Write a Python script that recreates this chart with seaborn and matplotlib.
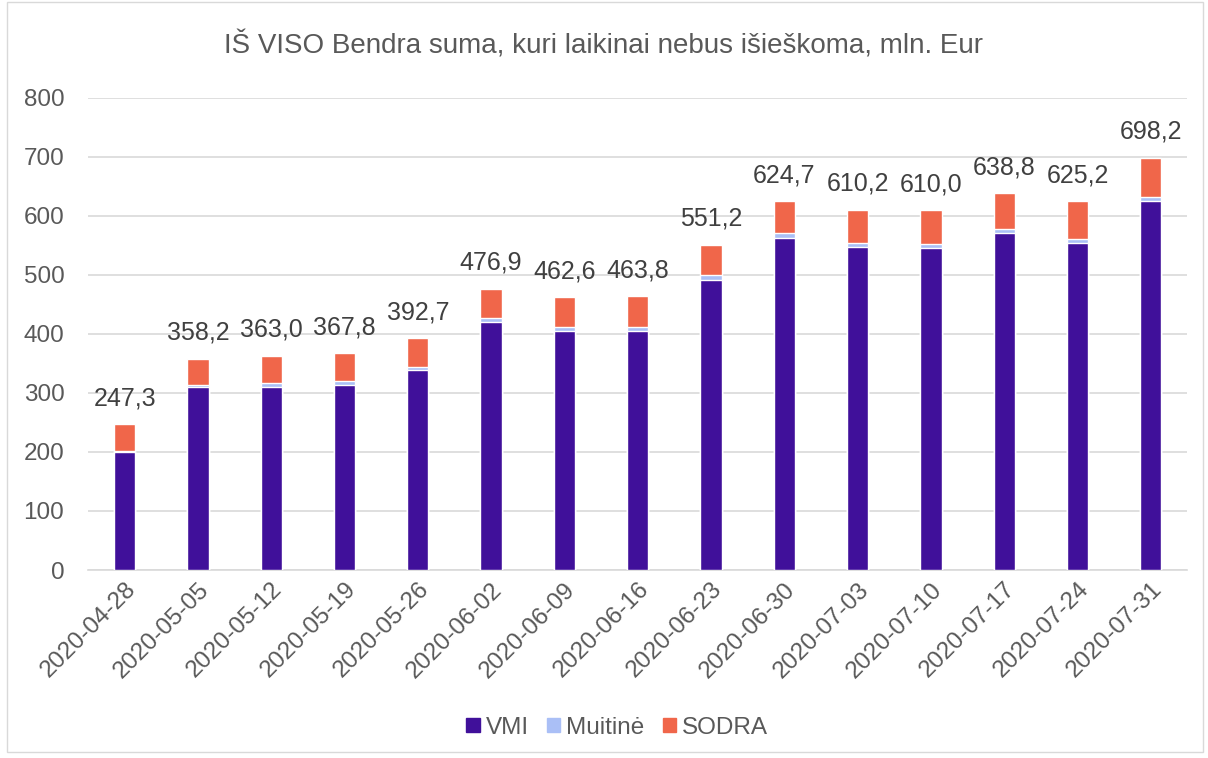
import numpy as np
import pandas as pd
import matplotlib
matplotlib.use("Agg")
import matplotlib.pyplot as plt
import seaborn as sns
from matplotlib.patches import Patch, Rectangle

# Data (mln. Eur)
dates = ["2020-04-28", "2020-05-05", "2020-05-12", "2020-05-19", "2020-05-26",
         "2020-06-02", "2020-06-09", "2020-06-16", "2020-06-23", "2020-06-30",
         "2020-07-03", "2020-07-10", "2020-07-17", "2020-07-24", "2020-07-31"]
vmi = [200.0, 310.0, 310.0, 314.0, 338.0, 420.0, 405.5, 405.5, 492.0, 563.0,
       547.0, 545.5, 571.5, 553.5, 625.0]
muitine = [2.0, 3.0, 6.0, 6.0, 6.5, 7.0, 7.0, 7.0, 7.0, 7.5, 7.0, 7.0, 7.0, 7.5, 7.0]
totals = [247.3, 358.2, 363.0, 367.8, 392.7, 476.9, 462.6, 463.8, 551.2, 624.7,
          610.2, 610.0, 638.8, 625.2, 698.2]
total_labels = ["247,3", "358,2", "363,0", "367,8", "392,7", "476,9", "462,6", "463,8",
                "551,2", "624,7", "610,2", "610,0", "638,8", "625,2", "698,2"]

c_vmi = "#40109a"
c_muit = "#aabff6"
c_sodra = "#f0664a"

df = pd.DataFrame({"date": dates, "vmi": vmi, "muitine": muitine, "total": totals})
df["vmi_muit"] = df["vmi"] + df["muitine"]

sns.set_style("white")
plt.rcParams["font.family"] = ["Liberation Sans", "DejaVu Sans"]

fig = plt.figure(figsize=(12.08, 7.58), dpi=100)
ax = fig.add_axes([0.0728, 0.248, 0.9102, 0.623])

# stacked bars drawn back-to-front from cumulative sums
sns.barplot(data=df, x="date", y="total", color=c_sodra, saturation=1, width=0.29, ax=ax, zorder=3)
sns.barplot(data=df, x="date", y="vmi_muit", color=c_muit, saturation=1, width=0.29, ax=ax, zorder=3)
sns.barplot(data=df, x="date", y="vmi", color=c_vmi, saturation=1, width=0.29, ax=ax, zorder=3)

for i, (t, lab) in enumerate(zip(totals, total_labels)):
    ax.annotate(lab, (i, t), xytext=(0, 10), textcoords="offset points",
                ha="center", va="bottom", fontsize=18, color="#404040")

ax.set_ylim(0, 800)
ax.set_xlim(-0.5, len(dates) - 0.5)
ax.set_yticks(range(0, 801, 100))
ax.grid(axis="y", color="#d9d9d9", linewidth=1.2, zorder=0)
ax.set_axisbelow(True)
for s in ["top", "right", "left"]:
    ax.spines[s].set_visible(False)
ax.spines["bottom"].set_color("#d9d9d9")
ax.spines["bottom"].set_linewidth(1.2)

ax.set_xlabel("")
ax.set_ylabel("")
ax.tick_params(axis="y", length=0, pad=17, labelsize=17.5, labelcolor="#595959")
ax.tick_params(axis="x", which="major", length=0, pad=6, labelsize=17.5, labelcolor="#595959")
ax.set_xticks(np.arange(-0.5, len(dates), 1), minor=True)
ax.tick_params(axis="x", which="minor", length=7, color="#d9d9d9", width=1.2)
plt.setp(ax.get_xticklabels(), rotation=45, ha="right", rotation_mode="anchor")

fig.text(0.5, 0.94, "IŠ VISO Bendra suma, kuri laikinai nebus išieškoma, mln. Eur",
         ha="center", va="center", fontsize=20, color="#595959")

handles = [Patch(color=c_vmi), Patch(color=c_muit), Patch(color=c_sodra)]
fig.legend(handles, ["VMI", "Muitinė", "SODRA"], loc="center", bbox_to_anchor=(0.511, 0.04),
           ncol=3, frameon=False, fontsize=17.5, handlelength=0.55, handleheight=0.55,
           handletextpad=0.25, columnspacing=0.75, labelcolor="#595959")

fig.patches.append(Rectangle((0.006, 0.008), 0.99, 0.99, transform=fig.transFigure,
                             fill=False, edgecolor="#d9d9d9", linewidth=1))

fig.savefig("out.png", dpi=100)
